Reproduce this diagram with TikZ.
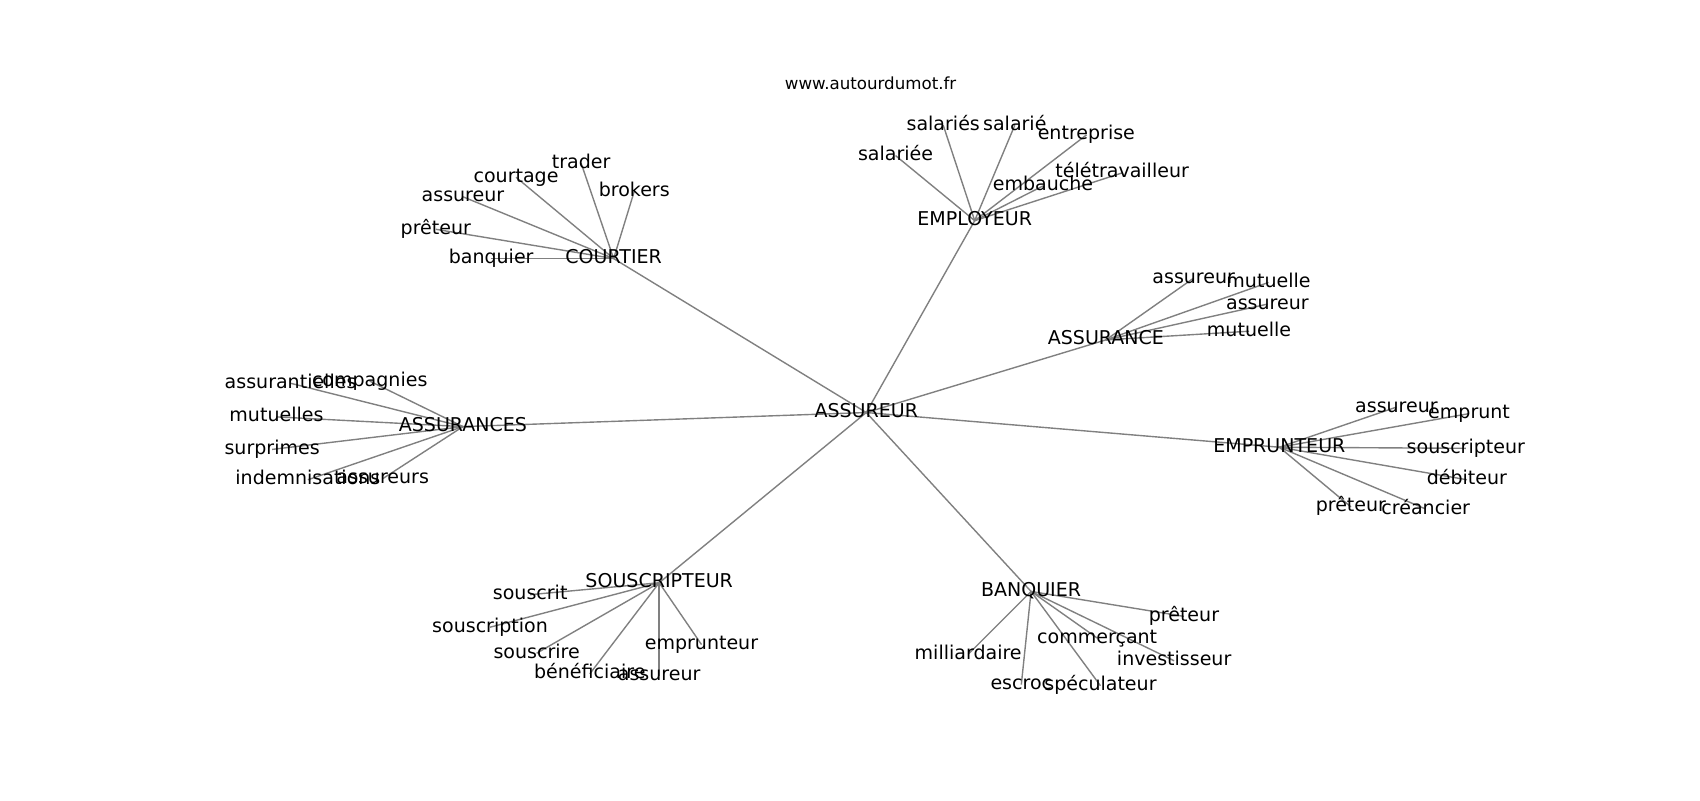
\documentclass[tikz,border=0pt]{standalone}
\usepackage{fontspec}
\setmainfont{DejaVu Sans}
\pgfdeclarelayer{back}
\pgfdeclarelayer{bg}
\pgfsetlayers{back,bg,main}
\tikzset{
  lbl/.style={inner sep=0pt, outer sep=0pt, font=\fontsize{13.7}{16}\selectfont, text height=0.93em, text depth=0.21em, anchor=center},
  ttl/.style={inner sep=0pt, font=\fontsize{12}{14}\selectfont, text height=0.93em, text depth=0.21em},
  edge/.style={draw=gray, line width=1pt}
}
\begin{document}
\begin{tikzpicture}[x=0.78064pt, y=-0.78064pt]
\begin{pgfonlayer}{back}
\fill[white] (0,0) rectangle (1568,737.9);
\end{pgfonlayer}
\useasboundingbox (0,0) rectangle (1568,737.9);
\begin{scope}[shift={(0,1.5)}]
\node[ttl] (title) at (803,76) {www.autourdumot.fr};
% hubs
\node[lbl] (c) at (799,379) {ASSUREUR};
\node[lbl] (co) at (566,237) {COURTIER};
\node[lbl] (em) at (899,202) {EMPLOYEUR};
\node[lbl] (as) at (1020,312) {ASSURANCE};
\node[lbl] (ep) at (1180,411) {EMPRUNTEUR};
\node[lbl] (ass) at (427,392) {ASSURANCES};
\node[lbl] (so) at (608,536) {SOUSCRIPTEUR};
\node[lbl] (ba) at (951,544) {BANQUIER};
% courtier
\node[lbl] (co1) at (536,149) {trader};
\node[lbl] (co2) at (476,162) {courtage};
\node[lbl] (co3) at (427,180) {assureur};
\node[lbl] (co4) at (585,175) {brokers};
\node[lbl] (co5) at (402,210) {prêteur};
\node[lbl] (co6) at (453,237) {banquier};
% employeur
\node[lbl] (em1) at (870,114) {salariés};
\node[lbl] (em2) at (936,114) {salarié};
\node[lbl] (em3) at (1002,123) {entreprise};
\node[lbl] (em4) at (826,142) {salariée};
\node[lbl] (em5) at (1035,158) {télétravailleur};
\node[lbl] (em6) at (962,170) {embauche};
% assurance
\node[lbl] (as1) at (1101,255) {assureur};
\node[lbl] (as2) at (1170,259) {mutuelle};
\node[lbl] (as3) at (1169,279) {assureur};
\node[lbl] (as4) at (1152,304) {mutuelle};
% emprunteur
\node[lbl] (ep1) at (1288,374) {assureur};
\node[lbl] (ep2) at (1355,380) {emprunt};
\node[lbl] (ep3) at (1352,412) {souscripteur};
\node[lbl] (ep4) at (1353,441) {débiteur};
\node[lbl] (ep5) at (1246,466) {prêteur};
\node[lbl] (ep6) at (1315,468) {créancier};
% assurances
\node[lbl] (ass1) at (268,352) {assurantielles};
\node[lbl] (ass2) at (341,350) {compagnies};
\node[lbl] (ass3) at (255,383) {mutuelles};
\node[lbl] (ass4) at (251,413) {surprimes};
\node[lbl] (ass5) at (284,441) {indemnisations};
\node[lbl] (ass6) at (353,440) {assureurs};
% souscripteur
\node[lbl] (so1) at (489,547) {souscrit};
\node[lbl] (so2) at (452,577) {souscription};
\node[lbl] (so3) at (495,601) {souscrire};
\node[lbl] (so4) at (647,593) {emprunteur};
\node[lbl] (so5) at (544,620) {bénéficiaire};
\node[lbl] (so6) at (608,622) {assureur};
% banquier
\node[lbl] (ba1) at (1092,567) {prêteur};
\node[lbl] (ba2) at (1012,587) {commerçant};
\node[lbl] (ba3) at (893,602) {milliardaire};
\node[lbl] (ba4) at (1083,608) {investisseur};
\node[lbl] (ba5) at (942,630) {escroc};
\node[lbl] (ba6) at (1015,631) {spéculateur};
\begin{pgfonlayer}{bg}
\foreach \h in {co,em,as,ep,ass,so,ba}
  \draw[edge] (c.center) -- (\h.center);
\foreach \i in {1,...,6} {
  \draw[edge] (co.center) -- (co\i.center);
  \draw[edge] (em.center) -- (em\i.center);
  \draw[edge] (ep.center) -- (ep\i.center);
  \draw[edge] (ass.center) -- (ass\i.center);
  \draw[edge] (so.center) -- (so\i.center);
  \draw[edge] (ba.center) -- (ba\i.center);
}
\foreach \i in {1,...,4}
  \draw[edge] (as.center) -- (as\i.center);
\end{pgfonlayer}
\end{scope}
\end{tikzpicture}
\end{document}
